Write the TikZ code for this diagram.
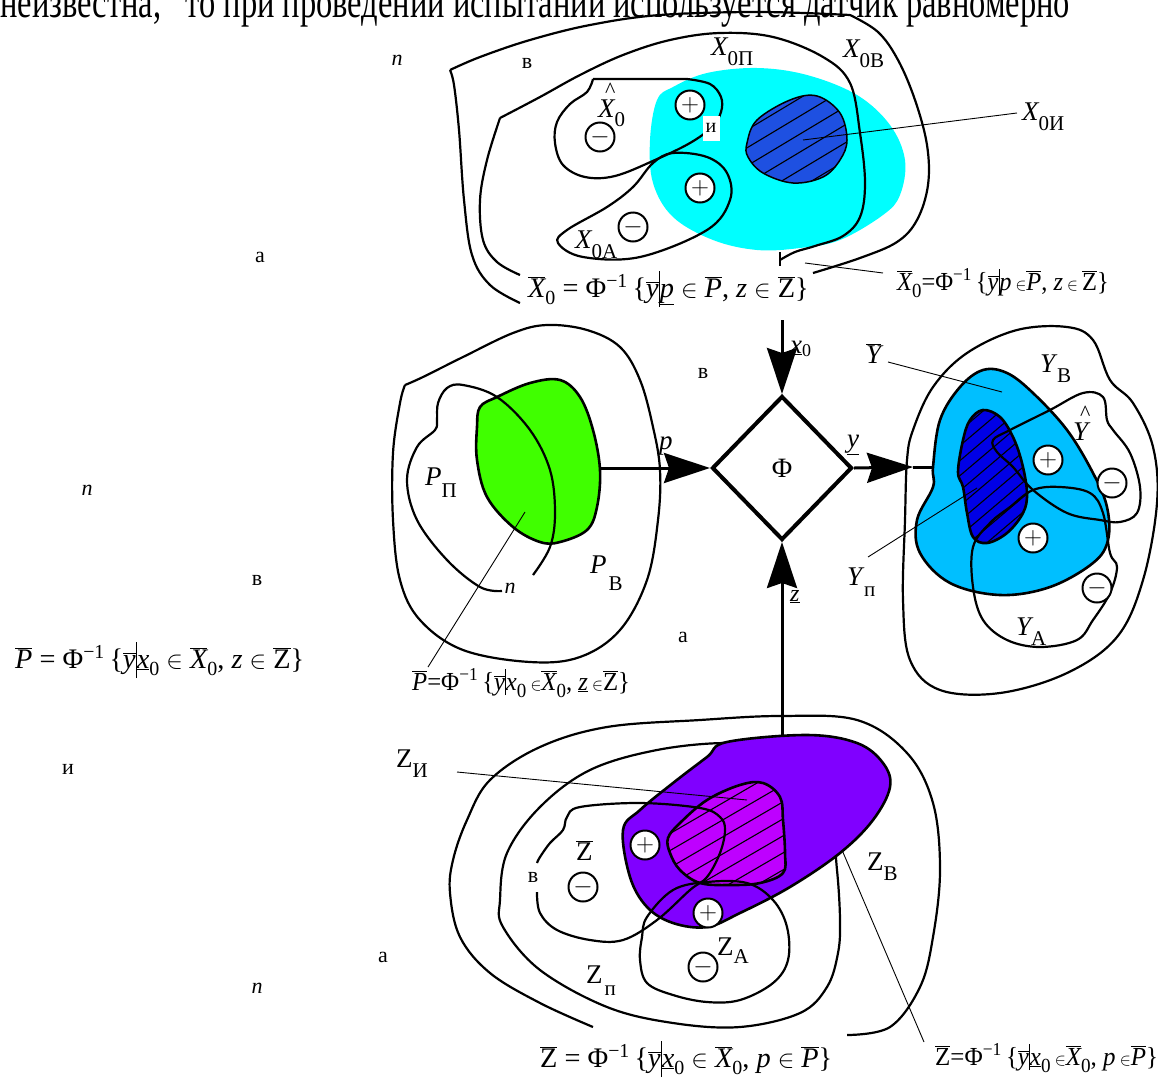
\documentclass[tikz,border=0pt]{standalone}
\usepackage{fontspec}
\setmainfont{Liberation Serif}
\usetikzlibrary{shapes.geometric,arrows.meta}
\definecolor{cyanX}{RGB}{0,255,255}
\definecolor{blueX}{RGB}{30,80,225}
\definecolor{greenP}{RGB}{64,255,0}
\definecolor{skyY}{RGB}{0,191,255}
\definecolor{blueY}{RGB}{0,0,230}
\definecolor{purpZ}{RGB}{128,0,255}
\definecolor{magZ}{RGB}{190,0,255}
\newcommand\ob[1]{\ensuremath{\overline{\mbox{#1}}}}
\newcommand\fsb[1]{\raisebox{-7pt}{\fontsize{20}{20}\selectfont #1}}
\newcommand\Lb[3][-10pt]{{\fontsize{27}{30}\selectfont #2}\raisebox{#1}{\fontsize{21}{21}\selectfont #3}}
\newcommand\hatted[1]{\rlap{\raisebox{20pt}{\hspace{7pt}\fontsize{22}{22}\selectfont\textasciicircum}}#1}
\newcommand\tbar{\rule[-10pt]{1.1pt}{36pt}}
\newcommand\sbar{\rule[-5pt]{0.9pt}{26pt}}
\newcommand\smin{{\fontsize{17}{17}\selectfont$\in$}}
\begin{document}
\begin{tikzpicture}[x=1pt,y=-1pt,
  bnd/.style={line width=2.2pt, line join=round},
  rgn/.style={line width=2.6pt, line join=round},
  ptr/.style={line width=0.9pt},
  hatch/.style={line width=1.1pt},
  pm/.style={circle, draw, line width=2pt, fill=white, minimum size=29pt, inner sep=0pt, font=\fontsize{26}{26}\selectfont},
  lbl/.style={inner sep=0pt, anchor=base west},
  stray/.style={inner sep=0pt, font=\fontsize{22}{22}\selectfont},
  frm/.style={inner sep=0pt, anchor=base west, font=\fontsize{28.3}{30}\selectfont},
  cfrm/.style={inner sep=0pt, anchor=base west, font=\fontsize{26}{28}\selectfont},
  flow/.style={line width=3pt, -{Stealth[length=46pt,width=30pt,inset=5pt]}}]
\useasboundingbox (0,0) rectangle (1158,1079);
\clip (0,0) rectangle (1158,1079);
\fill[white] (0,0) rectangle (1158,1079);

% header text, cut by the top edge
\node[anchor=base west, inner sep=0pt, font=\fontsize{32.5}{33}\selectfont] (head) at (0,17)
  {\scalebox{1}[1.4]{неизвестна,\hspace{0.5em} то при проведении испытаний используется датчик равномерно}};

%================ X region ================
\fill[cyanX] plot[smooth cycle, tension=0.6] coordinates {(657,100) (673,87) (707,73) (757,68) (807,75) (857,95) (890,125) (905,160) (900,195) (883,215) (840,240) (800,248) (757,250) (713,240) (673,217) (653,183) (650,140)};
\draw[bnd] plot[smooth, tension=0.6] coordinates {(520,303) (490,285) (472,255) (464,200) (459,130) (454,85) (450,70)}
  plot[smooth, tension=0.6] coordinates {(450,70) (480,57) (530,40) (590,25) (660,15) (760,12) (850,15)}
  plot[smooth, tension=0.6] coordinates {(850,15) (878,32) (898,60) (915,100) (927,145) (928,185) (917,220) (897,242) (860,258) (813,273)};
\draw[bnd] plot[smooth, tension=0.6] coordinates {(520,275) (497,262) (483,240) (480,200) (487,160) (500,118)}
  plot[smooth, tension=0.6] coordinates {(500,118) (540,97) (580,75) (623,55) (670,40) (720,33) (773,37) (823,57) (850,83) (860,133) (865,183) (860,217) (843,236) (815,246) (795,252) (780,260)};
\draw[bnd] (780,252) -- (780,266);
\def\shXI{plot[smooth cycle, tension=0.6] coordinates {(747,143) (757,120) (790,100) (817,96) (840,113) (847,140) (840,160) (823,177) (793,183) (763,173) (748,157)}}
\fill[blueX] \shXI;
\begin{scope}\clip \shXI;
  \foreach \k in {-9,...,9} \draw[hatch] (690,{200+\k*18}) -- (900,{74+\k*18});
\end{scope}
\draw[line width=1.5pt] \shXI;
\draw[bnd] (593,79) -- (687,79) plot[smooth, tension=0.6] coordinates {(687,79) (710,84) (721,97) (721,112) (712,127) (690,143) (655,160) (615,176) (585,177) (563,165) (555,143) (557,122) (570,104) (587,92) (593,79)};
\draw[bnd] plot[smooth cycle, tension=0.6] coordinates {(558,243) (567,230) (607,207) (633,187) (653,163) (673,153) (707,157) (727,173) (730,200) (707,230) (640,257) (583,257)};
\node[fill=white, inner sep=0pt, minimum width=17pt, minimum height=25pt, font=\fontsize{20}{20}\selectfont] (ibox) at (711,128) {и};
\node[pm] (pmA) at (690,105) {$+$};
\node[pm] (pmB) at (600,137) {$-$};
\node[pm] (pmC) at (700,188) {$+$};
\node[pm] (pmD) at (633,227) {$-$};
\node[lbl] (lXh) at (598,117) {\Lb[-9pt]{\hatted{\itshape X}}{0}};
\node[lbl] (lXP) at (711,55) {\Lb{\itshape X}{0П}};
\node[lbl] (lXB) at (843,57) {\Lb{\itshape X}{0В}};
\node[lbl] (lXA) at (575,248) {\Lb{\itshape X}{0A}};
\node[lbl] (lXI) at (1022,120) {\Lb{\itshape X}{0И}};
\coordinate (pXI) at (803,140);
\coordinate (pXIe) at (1017,113);
\draw[ptr] (pXI) -- (pXIe);
\node[frm] (fX1) at (528,297) {\ob{\itshape X}\fsb{0} = Φ\textsuperscript{−1}\,\{\ob{\itshape y}\tbar\underline{\itshape p} $\in$ \ob{\itshape P}, \textit{z} $\in$ \ob{Z}\}};
\node[cfrm] (fX2) at (897,290) {\scalebox{0.94}[1]{\ob{\itshape X}\fsb{0}=Φ\textsuperscript{−1}\,\{\ob{\itshape y}\sbar\textit{p}\,\smin\ob{\itshape P}, \textit{z}\,\smin\,\ob{Z}\}}};
\coordinate (pX2a) at (805,263);
\coordinate (pX2b) at (883,273);
\draw[ptr] (pX2a) -- (pX2b);

%================ P region ================
\draw[bnd] plot[smooth, tension=0.6] coordinates {(405,385) (423,377) (463,357) (513,333) (547,325) (587,330) (620,347) (640,380) (653,427) (660,470) (658,520) (647,580) (620,630) (580,657) (530,662) (463,650) (420,620) (400,580) (393,520) (393,453) (400,403) (405,385)};
\draw[rgn, fill=greenP] plot[smooth cycle, tension=0.6] coordinates {(480,407) (497,397) (530,383) (560,380) (580,397) (593,430) (600,470) (597,507) (587,530) (560,542) (540,542) (513,527) (487,497) (477,460) (477,427)};
\draw[bnd] plot[smooth, tension=0.6] coordinates {(502,591) (480,587) (447,560) (417,520) (407,480) (417,447) (435,430) (437,420) (438,403) (447,388) (463,385) (497,397) (530,430) (550,470) (555,513) (550,547) (533,575)};
\node[lbl] (lPP) at (425,485) {\Lb[-12pt]{\itshape P}{П}};
\node[lbl] (lPB) at (590,573) {\Lb[-17pt]{\itshape P}{\hspace{2pt}В}};
\coordinate (pP1) at (525,512);
\coordinate (pP2) at (428,667);
\draw[ptr] (pP1) -- (pP2);
\node[frm] (fP1) at (15,668) {\ob{\itshape P} = Φ\textsuperscript{−1}\,\{\ob{\itshape y}\tbar\underline{\itshape x}\fsb{0} $\in$ \ob{\itshape X}\fsb{0}, \textit{z} $\in$ \ob{Z}\}};
\node[cfrm] (fP2) at (412,690) {\scalebox{0.95}[1]{\ob{\itshape P}=Φ\textsuperscript{−1}\,\{\ob{\itshape y}\sbar\textit{x}\fsb{0}\,\smin\ob{\itshape X}\fsb{0}, \underline{\itshape z}\,\smin\ob{Z}\}}};

%================ Phi and flows ================
\node[diamond, draw, line width=4pt, inner sep=0pt, minimum width=140pt, minimum height=144pt, font=\fontsize{28}{28}\selectfont] (phi) at (782,468) {Φ};
\coordinate (x0src) at (782,320);
\coordinate (zsrc) at (782,740);
\coordinate (psrc) at (600,468);
\coordinate (ytip) at (913,467);
\coordinate (ydst) at (935,467);
\draw[flow] (x0src) -- (phi.north);
\draw[flow] (zsrc) -- (phi.south);
\draw[flow] (psrc) -- (phi.west);
\draw[flow] (phi.east) -- (ytip);
\draw[line width=3pt] (ytip) -- (ydst);
\node[lbl, font=\fontsize{27}{27}\selectfont] (lx0) at (790,353) {\underline{\itshape x}\raisebox{-3pt}{\fontsize{18}{18}\selectfont 0}};
\node[lbl, font=\fontsize{27}{27}\selectfont] (lp) at (659,449) {\itshape p};
\node[lbl, font=\fontsize{27}{27}\selectfont] (ly) at (847,447) {\underline{\itshape y}};
\node[lbl, font=\fontsize{24}{24}\selectfont] (lz) at (790,601) {\underline{\itshape z}};

%================ Y region ================
\draw[bnd] plot[smooth cycle, tension=0.6] coordinates {(907,460) (913,430) (933,387) (967,353) (1017,330) (1067,327) (1093,340) (1110,380) (1133,403) (1153,447) (1157,503) (1143,580) (1117,637) (1067,673) (1000,693) (940,690) (910,660) (903,600) (905,520)};
\draw[rgn, fill=skyY] plot[smooth cycle, tension=0.6] coordinates {(933,467) (940,420) (960,387) (983,370) (1007,373) (1033,393) (1067,430) (1093,473) (1107,507) (1108,540) (1093,563) (1050,587) (1000,595) (950,583) (920,553) (917,520) (933,487)};
\def\shYP{plot[smooth cycle, tension=0.6] coordinates {(958,472) (963,440) (970,420) (983,410) (1000,417) (1013,437) (1022,463) (1027,493) (1023,513) (1007,533) (987,543) (973,537) (967,513) (963,487)}}
\fill[blueY] \shYP;
\begin{scope}\clip \shYP;
  \foreach \k in {-12,...,12} \draw[hatch] (930,{531+\k*15}) -- (1055,{425+\k*15});
\end{scope}
\draw[rgn] \shYP;
\draw[bnd] plot[smooth cycle, tension=0.6] coordinates {(1010,430) (1050,410) (1083,393) (1103,397) (1107,420) (1113,430) (1130,453) (1140,487) (1137,513) (1120,522) (1100,520) (1067,513) (1033,490) (1013,467) (997,452) (993,440)};
\draw[bnd] plot[smooth cycle, tension=0.6] coordinates {(973,547) (973,587) (983,620) (1007,640) (1040,647) (1077,640) (1093,620) (1110,593) (1117,567) (1110,553) (1103,513) (1090,493) (1060,487) (1033,490) (1010,507) (990,523)};
\node[pm] (pmE) at (1048,460) {$+$};
\node[pm] (pmF) at (1112,483) {$-$};
\node[pm] (pmG) at (1033,538) {$+$};
\node[pm] (pmH) at (1097,588) {$-$};
\node[lbl, font=\fontsize{27}{30}\selectfont] (lYo) at (866,363) {\ob{\itshape Y}};
\node[lbl] (lYB) at (1040,372) {\Lb{\itshape Y}{\hspace{2pt}В}};
\node[lbl, font=\fontsize{27}{30}\selectfont] (lYh) at (1073,440) {\hatted{\itshape Y}};
\node[lbl] (lYP) at (847,585) {\Lb[-11pt]{\itshape Y}{\hspace{2pt}п}};
\node[lbl] (lYA) at (1016,635) {\Lb{\itshape Y}{A}};
\coordinate (pY1) at (888,362);
\coordinate (pY2) at (1002,392);
\draw[ptr] (pY1) -- (pY2);
\coordinate (pY3) at (868,557);
\coordinate (pY4) at (977,488);
\draw[ptr] (pY3) -- (pY4);

%================ Z region ================
\draw[bnd] plot[smooth, tension=0.6] coordinates {(593,1027) (540,1003) (490,973) (460,937) (450,893) (453,860) (467,820) (490,780) (540,747) (607,727) (700,720) (780,716) (857,720) (907,753) (933,803) (940,870) (933,937) (920,987) (890,1027) (847,1035)};
\draw[bnd] plot[smooth cycle, tension=0.6] coordinates {(500,900) (507,853) (540,807) (590,770) (657,750) (727,743) (773,750) (807,777) (830,820) (837,870) (840,920) (838,953) (827,987) (800,1013) (740,1027) (673,1023) (607,1007) (540,970) (503,927)};
\draw[rgn, fill=purpZ] plot[smooth cycle, tension=0.6] coordinates {(727,742) (807,735) (857,743) (883,763) (890,787) (873,820) (840,853) (790,887) (740,913) (707,927) (673,923) (647,907) (630,877) (623,830) (640,810) (673,783) (707,757)};
\def\shZI{plot[smooth cycle, tension=0.6] coordinates {(668,838) (680,823) (707,800) (740,785) (763,783) (780,797) (783,820) (785,853) (783,873) (760,883) (730,885) (700,883) (680,870) (670,853)}}
\fill[magZ] \shZI;
\begin{scope}\clip \shZI;
  \foreach \k in {-8,...,8} \draw[hatch] (640,{885+\k*17}) -- (800,{792+\k*17});
\end{scope}
\draw[rgn] \shZI;
\draw[bnd] plot[smooth, tension=0.6] coordinates {(537,892) (540,913) (557,930) (590,940) (623,940) (657,920) (690,890) (707,877) (720,853) (725,830) (720,817) (700,808) (640,803) (580,807) (567,817) (563,830) (550,843) (540,857) (537,863)};
\draw[bnd] plot[smooth cycle, tension=0.6] coordinates {(647,917) (673,890) (707,882) (747,883) (773,900) (787,927) (788,960) (773,983) (740,1000) (707,1002) (673,995) (647,983) (640,960) (642,937)};
\node[pm] (pmI) at (645,845) {$+$};
\node[pm] (pmJ) at (583,887) {$-$};
\node[pm] (pmK) at (708,913) {$+$};
\node[pm] (pmL) at (703,967) {$-$};
\node[lbl, font=\fontsize{27}{30}\selectfont] (lZo) at (576,860) {\ob{Z}};
\node[lbl] (lZB) at (867,870) {\Lb{Z}{В}};
\node[lbl] (lZA) at (717,955) {\Lb[-8pt]{Z}{A}};
\node[lbl] (lZP) at (586,983) {\Lb[-12pt]{Z}{\hspace{2pt}п}};
\node[lbl] (lZI) at (396,767) {\Lb{Z}{И}};
\coordinate (pZ1) at (457,772);
\coordinate (pZ2) at (747,800);
\draw[ptr] (pZ1) -- (pZ2);
\coordinate (pZ3) at (842,850);
\coordinate (pZ4) at (924,1042);
\draw[ptr] (pZ3) -- (pZ4);
\node[frm] (fZ1) at (540,1067) {\ob{Z} = Φ\textsuperscript{−1}\,\{\ob{\itshape y}\tbar\underline{\itshape x}\fsb{0} $\in$ \ob{\itshape X}\fsb{0}, \textit{p} $\in$ \ob{\itshape P}\}};
\node[cfrm] (fZ2) at (935,1065) {\scalebox{0.96}[1]{\ob{Z}=Φ\textsuperscript{−1}\,\{\ob{\itshape y}\sbar\underline{\itshape x}\fsb{0}\,\smin\ob{\itshape X}\fsb{0}, \textit{p}\,\smin\ob{\itshape P}\}}};

%================ stray letters ================
\node[stray, font=\fontsize{22}{22}\selectfont\itshape] (s1) at (397,60) {n};
\node[stray] (s2) at (527,63) {в};
\node[stray] (s3) at (260,257) {а};
\node[stray] (s4) at (703,373) {в};
\node[stray, font=\fontsize{22}{22}\selectfont\itshape] (s5) at (87,490) {n};
\node[stray] (s6) at (257,580) {в};
\node[stray] (s7) at (683,637) {а};
\node[stray] (s8) at (68,769) {и};
\node[stray] (s9) at (383,957) {а};
\node[stray, font=\fontsize{22}{22}\selectfont\itshape] (s10) at (257,988) {n};
\node[stray] (s11) at (533,877) {в};
\node[stray, font=\fontsize{22}{22}\selectfont\itshape] (s12) at (510,588) {n};
\end{tikzpicture}
\end{document}
